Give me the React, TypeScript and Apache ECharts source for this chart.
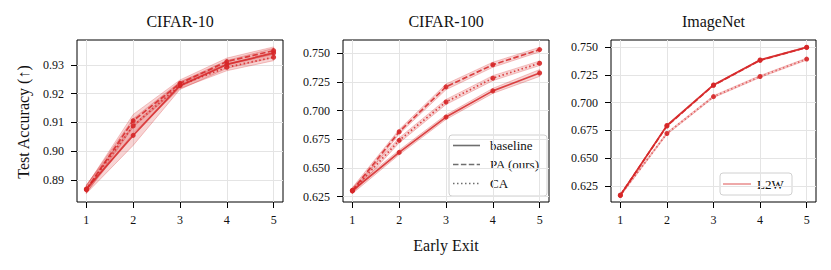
import React, { useEffect, useRef } from "react";
import * as echarts from "echarts";

// ---------- data ----------
const exits = [1, 2, 3, 4, 5];
const xTicks = [1, 2, 3, 4, 5];

const cifar10Baseline = [0.8868, 0.9055, 0.9228, 0.9302, 0.9342];
const cifar10PA = [0.8866, 0.9106, 0.9236, 0.9312, 0.935];
const cifar10CA = [0.8868, 0.9088, 0.923, 0.9292, 0.9327];
const cifar10BaselineStd = [0.0015, 0.0035, 0.0013, 0.0014, 0.0016];
const cifar10PAStd = [0.0013, 0.0022, 0.0012, 0.0012, 0.0013];
const cifar10CAStd = [0.0013, 0.0025, 0.0012, 0.0012, 0.0012];

const cifar100Baseline = [0.63, 0.6635, 0.6943, 0.7172, 0.7328];
const cifar100PA = [0.6303, 0.6815, 0.7207, 0.74, 0.7532];
const cifar100CA = [0.63, 0.674, 0.7075, 0.7283, 0.7413];
const cifar100BaselineStd = [0.0025, 0.002, 0.002, 0.0022, 0.003];
const cifar100PAStd = [0.0025, 0.002, 0.0025, 0.0022, 0.002];
const cifar100CAStd = [0.0025, 0.0022, 0.0022, 0.0022, 0.002];

const imagenetBaseline = [0.6166, 0.6795, 0.716, 0.7385, 0.75];
const imagenetPA = [0.6168, 0.679, 0.7157, 0.7382, 0.7498];
const imagenetCA = [0.6166, 0.6723, 0.7055, 0.7236, 0.7393];
const imagenetBaselineStd = [0.0005, 0.0005, 0.0005, 0.0005, 0.0005];
const imagenetPAStd = [0.0005, 0.0005, 0.0005, 0.0005, 0.0005];
const imagenetCAStd = [0.0009, 0.0009, 0.0009, 0.0009, 0.0009];

const yTicksCifar10 = [0.89, 0.9, 0.91, 0.92, 0.93];
const yTicksCifar100 = [0.625, 0.65, 0.675, 0.7, 0.725, 0.75];
const yTicksImagenet = [0.625, 0.65, 0.675, 0.7, 0.725, 0.75];

const titles = ["CIFAR-10", "CIFAR-100", "ImageNet"];
const methodNames = ["baseline", "PA (ours)", "CA"];
const imagenetLegend = "L2W";

// ---------- styling ----------
const FONT = '"Liberation Serif", "DejaVu Serif", serif';
const RED = "#d62728";
const DASH = [5.5, 2.4];
const DOT = [1.5, 2.5];

const panels = [
  {
    title: titles[0],
    grid: { left: 77, top: 40, width: 206, height: 162 },
    yMin: 0.8823,
    yMax: 0.9387,
    yTicks: yTicksCifar10,
    digits: 2,
    means: [cifar10Baseline, cifar10PA, cifar10CA],
    stds: [cifar10BaselineStd, cifar10PAStd, cifar10CAStd],
  },
  {
    title: titles[1],
    grid: { left: 343, top: 40, width: 206, height: 162 },
    yMin: 0.6202,
    yMax: 0.7616,
    yTicks: yTicksCifar100,
    digits: 3,
    means: [cifar100Baseline, cifar100PA, cifar100CA],
    stds: [cifar100BaselineStd, cifar100PAStd, cifar100CAStd],
  },
  {
    title: titles[2],
    grid: { left: 611, top: 40, width: 205, height: 162 },
    yMin: 0.6106,
    yMax: 0.7565,
    yTicks: yTicksImagenet,
    digits: 3,
    means: [imagenetBaseline, imagenetPA, imagenetCA],
    stds: [imagenetBaselineStd, imagenetPAStd, imagenetCAStd],
  },
];

const lineTypes: any[] = ["solid", DASH, DOT];

function buildOption() {
  const grid: any[] = [];
  const xAxis: any[] = [];
  const yAxis: any[] = [];
  const series: any[] = [];
  const graphic: any[] = [];

  panels.forEach((p, pi) => {
    grid.push({
      ...p.grid,
      show: true,
      borderColor: "#000",
      borderWidth: 1,
      backgroundColor: "transparent",
      containLabel: false,
    });
    xAxis.push({
      type: "value",
      gridIndex: pi,
      min: 0.8,
      max: 5.2,
      axisLine: { show: false },
      axisTick: {
        show: true,
        customValues: xTicks,
        length: 6,
        lineStyle: { color: "#000", width: 1 },
      },
      axisLabel: {
        customValues: xTicks,
        margin: 12,
        color: "#111",
        fontFamily: FONT,
        fontSize: 12,
        formatter: (v: number) => String(Math.round(v)),
      },
      splitLine: { show: true, lineStyle: { color: "#e4e4e4", width: 1 } },
    });
    yAxis.push({
      type: "value",
      gridIndex: pi,
      min: p.yMin,
      max: p.yMax,
      axisLine: { show: false },
      axisTick: {
        show: true,
        customValues: p.yTicks,
        length: 6,
        lineStyle: { color: "#000", width: 1 },
      },
      axisLabel: {
        customValues: p.yTicks,
        margin: 13,
        color: "#111",
        fontFamily: FONT,
        fontSize: 12,
        formatter: (v: number) => v.toFixed(p.digits),
      },
      splitLine: { show: true, lineStyle: { color: "#e4e4e4", width: 1 } },
    });

    // std bands drawn through the axes' scales
    p.means.forEach((mean, mi) => {
      const std = p.stds[mi];
      const bandData = exits.map((x, i) => [x, mean[i] - std[i], mean[i] + std[i]]);
      series.push({
        type: "custom",
        xAxisIndex: pi,
        yAxisIndex: pi,
        silent: true,
        z: 1,
        data: bandData,
        encode: { x: 0, y: [1, 2] },
        renderItem: (params: any, api: any) => {
          if (params.dataIndex !== 0) return null;
          const upper = bandData.map((d) => api.coord([d[0], d[2]]));
          const lower = bandData.map((d) => api.coord([d[0], d[1]])).reverse();
          return {
            type: "polygon",
            shape: { points: upper.concat(lower) },
            style: {
              fill: "rgba(214,39,40,0.2)",
              stroke: "rgba(214,39,40,0.25)",
              lineWidth: 1,
            },
          };
        },
      });
    });

    p.means.forEach((mean, mi) => {
      series.push({
        type: "line",
        name: `${p.title} ${methodNames[mi]}`,
        xAxisIndex: pi,
        yAxisIndex: pi,
        data: exits.map((x, i) => [x, mean[i]]),
        symbol: "circle",
        symbolSize: 5,
        itemStyle: { color: RED, opacity: 0.9 },
        lineStyle: {
          color: RED,
          width: 1.7,
          type: lineTypes[mi],
          opacity: pi === 2 && mi === 2 ? 0.6 : 0.85,
        },
        z: 3,
      });
    });

    graphic.push({
      type: "text",
      x: p.grid.left + p.grid.width / 2,
      y: 21,
      style: {
        text: p.title,
        align: "center",
        verticalAlign: "middle",
        font: `16px ${FONT}`,
        fill: "#111",
      },
    });
  });

  // axis titles
  graphic.push({
    type: "text",
    x: 23,
    y: 122,
    rotation: Math.PI / 2,
    style: {
      text: "Test Accuracy (↑)",
      align: "center",
      verticalAlign: "middle",
      font: `16px ${FONT}`,
      fill: "#111",
    },
  });
  graphic.push({
    type: "text",
    x: 446,
    y: 245,
    style: {
      text: "Early Exit",
      align: "center",
      verticalAlign: "middle",
      font: `16px ${FONT}`,
      fill: "#111",
    },
  });

  // CIFAR-100 legend
  const legendChildren: any[] = [
    {
      type: "rect",
      shape: { x: 449, y: 135, width: 98, height: 61, r: 3 },
      style: { fill: "rgba(255,255,255,0.85)", stroke: "#d0d0d0", lineWidth: 1 },
    },
  ];
  methodNames.forEach((name, i) => {
    const y = 145.5 + i * 19;
    legendChildren.push({
      type: "line",
      shape: { x1: 453, y1: y, x2: 480, y2: y },
      style: {
        stroke: "#555",
        lineWidth: 1.6,
        opacity: 0.85,
        lineDash: i === 0 ? null : i === 1 ? DASH : DOT,
      },
    });
    legendChildren.push({
      type: "text",
      x: 490,
      y,
      style: {
        text: name,
        align: "left",
        verticalAlign: "middle",
        font: `13px ${FONT}`,
        fill: "#111",
      },
    });
  });
  graphic.push({ type: "group", z: 100, children: legendChildren });

  // ImageNet legend
  graphic.push({
    type: "group",
    z: 100,
    children: [
      {
        type: "rect",
        shape: { x: 720, y: 173, width: 72, height: 22, r: 3 },
        style: { fill: "rgba(255,255,255,0.85)", stroke: "#d0d0d0", lineWidth: 1 },
      },
      {
        type: "line",
        shape: { x1: 723, y1: 184, x2: 751, y2: 184 },
        style: { stroke: RED, lineWidth: 1.6, opacity: 0.5 },
      },
      {
        type: "text",
        x: 757,
        y: 184,
        style: {
          text: imagenetLegend,
          align: "left",
          verticalAlign: "middle",
          font: `13px ${FONT}`,
          fill: "#111",
        },
      },
    ],
  });

  return {
    animation: false,
    backgroundColor: "#fff",
    textStyle: { fontFamily: FONT },
    grid,
    xAxis,
    yAxis,
    series,
    graphic,
  };
}

export default function App() {
  const ref = useRef<HTMLDivElement>(null);
  useEffect(() => {
    if (!ref.current) return;
    const chart = echarts.init(ref.current, null, { renderer: "svg" });
    chart.setOption(buildOption() as any);
    return () => chart.dispose();
  }, []);
  return (
    <div
      ref={ref}
      style={{ position: "absolute", left: 0, top: 0, width: 831, height: 270, background: "#fff" }}
    />
  );
}
